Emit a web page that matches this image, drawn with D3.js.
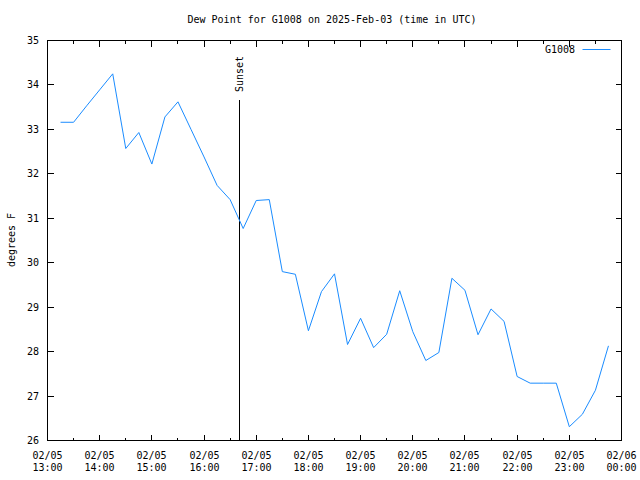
<!DOCTYPE html>
<html>
<head>
<meta charset="utf-8">
<script src="https://cdn.jsdelivr.net/npm/d3@7"></script>
<style>
  body { margin: 0; background: #fff; }
  svg { display: block; }
  text { font-family: "DejaVu Sans Mono", monospace; font-size: 10px; fill: #000; }
</style>
</head>
<body>
<script>
// ---- data ----
const startTime = "2025-02-05T13:15:00Z";   // first reading, then every 15 minutes
const stepMinutes = 15;
const dewPoint = [
  33.16, 33.16, 33.53, 33.89, 34.25, 32.57, 32.93, 32.22, 33.28, 33.62,
  33.00, 32.38, 31.74, 31.42, 30.77, 31.40, 31.42, 29.80, 29.74, 28.47,
  29.35, 29.75, 28.16, 28.75, 28.09, 28.39, 29.37, 28.45, 27.80, 27.98,
  29.65, 29.38, 28.38, 28.96, 28.68, 27.44, 27.29, 27.29, 27.29, 26.31,
  26.59, 27.13, 28.13
];
const seriesName = "G1008";
const sunsetTime = "2025-02-05T16:41:00Z";
const yTicks = [26, 27, 28, 29, 30, 31, 32, 33, 34, 35];
const xTickTimes = [
  "2025-02-05T13:00:00Z","2025-02-05T14:00:00Z","2025-02-05T15:00:00Z","2025-02-05T16:00:00Z",
  "2025-02-05T17:00:00Z","2025-02-05T18:00:00Z","2025-02-05T19:00:00Z","2025-02-05T20:00:00Z",
  "2025-02-05T21:00:00Z","2025-02-05T22:00:00Z","2025-02-05T23:00:00Z","2025-02-06T00:00:00Z"
];
const xTickDateLabels = ["02/05","02/05","02/05","02/05","02/05","02/05","02/05","02/05","02/05","02/05","02/05","02/06"];
const xTickTimeLabels = ["13:00","14:00","15:00","16:00","17:00","18:00","19:00","20:00","21:00","22:00","23:00","00:00"];
const title = "Dew Point for G1008 on 2025-Feb-03 (time in UTC)";
const yLabel = "degrees F";

// ---- layout ----
const W = 640, H = 480;
const L = 47, R = 621, T = 40, B = 440;
const lineColor = "#1a8cff";

const t0 = new Date(startTime);
const points = dewPoint.map((v, i) => ({ t: new Date(t0.getTime() + i * stepMinutes * 60000), v }));

const x = d3.scaleUtc()
  .domain([new Date(xTickTimes[0]), new Date(xTickTimes[xTickTimes.length - 1])])
  .range([L, R]);
const y = d3.scaleLinear().domain([26, 35]).range([B, T]);

const svg = d3.select("body").append("svg").attr("width", W).attr("height", H);
svg.append("rect").attr("width", W).attr("height", H).attr("fill", "#fff");

const g = svg.append("g").attr("transform", "translate(0.5,0.5)");

// minor x ticks (half hours)
const xMinor = xTickTimes.slice(0, -1).map(s => new Date(new Date(s).getTime() + 30 * 60000));

// ticks via axes
const fmtDate = i => xTickDateLabels[i];
const xMajorDates = xTickTimes.map(s => new Date(s));

function tickLines(sel, vals, pos, len, side) {
  // side: 'bottom','top','left','right'
  sel.selectAll(null).data(vals).enter().append("line")
    .attr("x1", d => side === "bottom" || side === "top" ? Math.round(pos(d)) : (side === "left" ? L : R))
    .attr("x2", d => side === "bottom" || side === "top" ? Math.round(pos(d)) : (side === "left" ? L + len : R - len))
    .attr("y1", d => side === "left" || side === "right" ? Math.round(pos(d)) : (side === "bottom" ? B : T))
    .attr("y2", d => side === "left" || side === "right" ? Math.round(pos(d)) : (side === "bottom" ? B - len : T + len))
    .attr("stroke", "#000").attr("stroke-width", 1).attr("shape-rendering", "crispEdges");
}
tickLines(g, xMajorDates, x, 6, "bottom");
tickLines(g, xMajorDates, x, 6, "top");
tickLines(g, xMinor, x, 3, "bottom");
tickLines(g, xMinor, x, 3, "top");
tickLines(g, yTicks, y, 6, "left");
tickLines(g, yTicks, y, 6, "right");

// frame
g.append("rect").attr("x", L).attr("y", T).attr("width", R - L).attr("height", B - T)
  .attr("fill", "none").attr("stroke", "#000").attr("shape-rendering", "crispEdges");

// y tick labels
svg.selectAll(".ytl").data(yTicks).enter().append("text")
  .attr("x", L - 8).attr("y", d => Math.round(y(d)) + 4)
  .attr("text-anchor", "end").text(d => d);

// x tick labels
const xl = svg.selectAll(".xtl").data(xMajorDates).enter().append("g");
xl.append("text").attr("x", d => Math.round(x(d)) + 0.5).attr("y", 459)
  .attr("text-anchor", "middle").text((d, i) => xTickDateLabels[i]);
xl.append("text").attr("x", d => Math.round(x(d)) + 0.5).attr("y", 471)
  .attr("text-anchor", "middle").text((d, i) => xTickTimeLabels[i]);

// title
svg.append("text").attr("x", 332).attr("y", 23).attr("text-anchor", "middle").text(title);

// y label
svg.append("text").attr("transform", "translate(15,240) rotate(-90)")
  .attr("text-anchor", "middle").text(yLabel);

// sunset
const sx = Math.round(x(new Date(sunsetTime)));
g.append("line").attr("x1", sx).attr("x2", sx).attr("y1", 99).attr("y2", B)
  .attr("stroke", "#000").attr("shape-rendering", "crispEdges");
svg.append("text").attr("transform", `translate(${sx + 4},92) rotate(-90)`)
  .attr("text-anchor", "start").text("Sunset");

// series line
const line = d3.line().x(d => x(d.t)).y(d => y(d.v));
g.append("path").datum(points).attr("d", line)
  .attr("fill", "none").attr("stroke", lineColor).attr("stroke-width", 1);

// legend
svg.append("text").attr("x", 575).attr("y", 53).attr("text-anchor", "end").text(seriesName);
g.append("line").attr("x1", 582).attr("x2", 610).attr("y1", 49).attr("y2", 49)
  .attr("stroke", lineColor).attr("stroke-width", 1);
</script>
</body>
</html>
